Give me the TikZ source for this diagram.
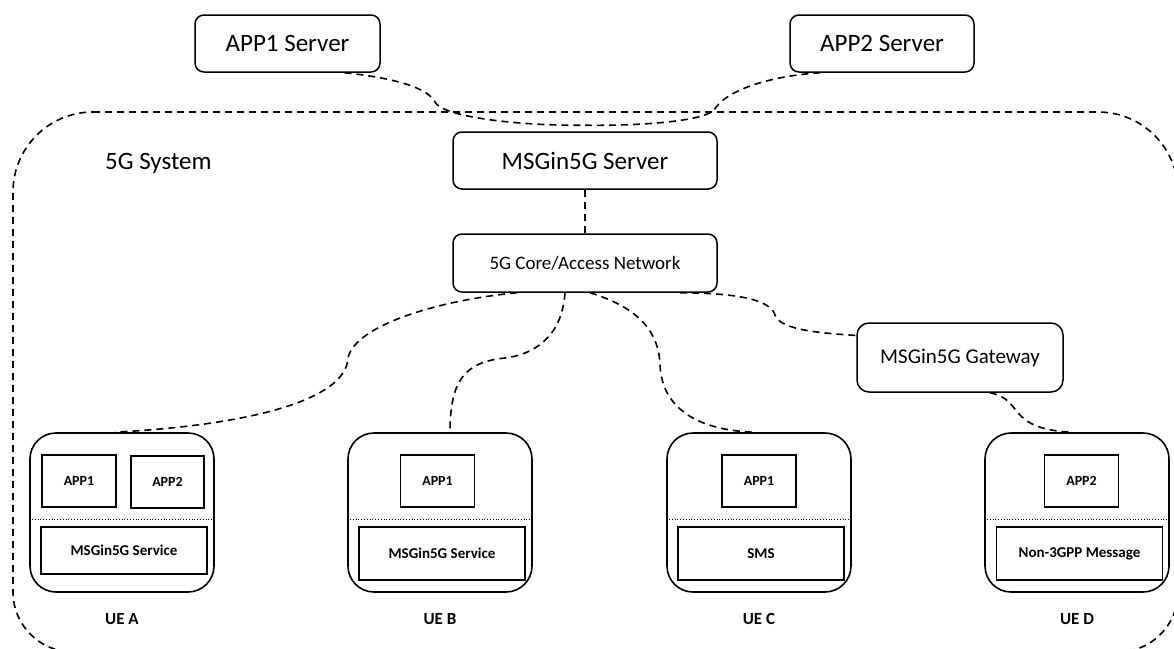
\documentclass[tikz,border=0pt]{standalone}
\usepackage{fontspec}
\setmainfont{Carlito}
\usepackage{tikz}
\usetikzlibrary{positioning}
\tikzset{
  server/.style = {rectangle, draw, rounded corners=9pt, line width=1.5pt, inner sep=0pt, minimum width=185pt, minimum height=57pt, font=\fontsize{25}{30}\selectfont},
  uebox/.style = {rectangle, draw, rounded corners=26pt, line width=1.6pt, minimum width=184pt, minimum height=159pt},
  appbox/.style = {rectangle, draw, line width=1.8pt, inner sep=0pt, minimum width=74pt, minimum height=52pt, font=\fontsize{14}{16}\selectfont\bfseries},
  svcbox/.style = {rectangle, draw, line width=1.8pt, inner sep=0pt, minimum width=166pt, minimum height=53pt, font=\fontsize{15}{18}\selectfont\bfseries},
  uelabel/.style = {inner sep=0pt, font=\fontsize{17}{20}\selectfont\bfseries},
  conn/.style = {line width=1.6pt, dash pattern=on 7pt off 5pt},
  sepline/.style = {line width=1pt, dash pattern=on 1pt off 1.8pt}
}

\begin{document}
\begin{tikzpicture}[x=1pt, y=1pt]
    \useasboundingbox (0,0) rectangle (1174,-648);

    % 5G system boundary
    \draw[conn] (93,-112) -- (1098,-112) arc[start angle=90, end angle=0, radius=80]
        -- (1178,-592) arc[start angle=0, end angle=-90, radius=60]
        -- (73,-652) arc[start angle=270, end angle=180, radius=60]
        -- (13,-192) arc[start angle=180, end angle=90, radius=80] -- cycle;
    \node[inner sep=0pt, anchor=base west, font=\fontsize{25}{30}\selectfont] (sys) at (105,-169) {5G System};

    \node[server] (app1) at (287.5,-43.5) {APP1 Server};
    \node[server, minimum width=184pt] (app2) at (882,-43.5) {APP2 Server};
    \node[server, minimum width=264pt] (msgs) at (585,-160.5) {MSGin5G Server};
    \node[server, minimum width=264pt, minimum height=58pt, font=\fontsize{19}{23}\selectfont] (core) at (585,-263) {5G Core/Access Network};
    \node[server, minimum width=206pt, minimum height=69pt, rounded corners=12pt, font=\fontsize{21}{25}\selectfont] (gw) at (960,-357.5) {MSGin5G Gateway};
    \coordinate (top) at ([yshift=6pt]msgs.north);

    % UEs
    \node[uebox] (ueA) at (122,-512.5) {};
    \node[uebox] (ueB) at (440,-512.5) {};
    \node[uebox] (ueC) at (759,-512.5) {};
    \node[uebox] (ueD) at (1077,-512.5) {};

    \node[appbox] (appA1) at (79,-481) {APP1};
    \node[appbox, minimum width=73pt] (appA2) at (167.5,-482) {APP2};
    \node[appbox] (appB1) at (437.5,-481) {APP1};
    \node[appbox] (appC1) at (759,-481) {APP1};
    \node[appbox] (appD2) at (1081.5,-481) {APP2};

    \draw[sepline] ([yshift=-7pt]ueA.west) -- ([yshift=-7pt]ueA.east);
    \draw[sepline] ([yshift=-7pt]ueB.west) -- ([yshift=-7pt]ueB.east);
    \draw[sepline] ([yshift=-7pt]ueC.west) -- ([yshift=-7pt]ueC.east);
    \draw[sepline] ([yshift=-7pt]ueD.west) -- ([yshift=-7pt]ueD.east);

    \node[svcbox, minimum height=47pt] (svcA) at (124,-550.5) {MSGin5G Service};
    \node[svcbox] (svcB) at (442,-553.5) {MSGin5G Service};
    \node[svcbox] (svcC) at (761,-553.5) {SMS};
    \node[svcbox] (svcD) at (1079.5,-553.5) {Non-3GPP Message};

    \node[uelabel, below=20pt of ueA] (lblA) {UE A};
    \node[uelabel, below=20pt of ueB] (lblB) {UE B};
    \node[uelabel, below=20pt of ueC] (lblC) {UE C};
    \node[uelabel, below=20pt of ueD] (lblD) {UE D};

    % links
    \draw[conn] ([xshift=57pt]app1.south) .. controls (395,-78) and (428,-88) .. (435,-102)
        .. controls (442,-117) and (520,-126) .. (top);
    \draw[conn] (top) .. controls (650,-126) and (705,-120) .. (714,-110)
        .. controls (726,-90) and (770,-76) .. ([xshift=-62pt]app2.south);
    \draw[conn] (msgs) -- (core);
    \draw[conn] ([xshift=-68pt]core.south) .. controls (440,-300) and (355,-325) .. (348,-358)
        .. controls (346,-400) and (250,-425) .. ([xshift=-7pt]ueA.north);
    \draw[conn] ([xshift=-20pt]core.south) .. controls (562,-340) and (530,-355) .. (505,-358)
        .. controls (465,-362) and (450,-380) .. ([xshift=10pt]ueB.north);
    \draw[conn] ([xshift=5pt]core.south) .. controls (640,-308) and (659,-333) .. (660,-365)
        .. controls (662,-410) and (700,-430) .. ([xshift=-6pt]ueC.north);
    \draw[conn] ([xshift=95pt]core.south) .. controls (730,-293) and (770,-298) .. (775,-315)
        .. controls (780,-330) and (820,-333) .. ([yshift=22pt]gw.west);
    \draw[conn] ([xshift=30pt]gw.south) .. controls (1025,-400) and (1005,-428) .. ([xshift=-7pt]ueD.north);
\end{tikzpicture}
\end{document}
